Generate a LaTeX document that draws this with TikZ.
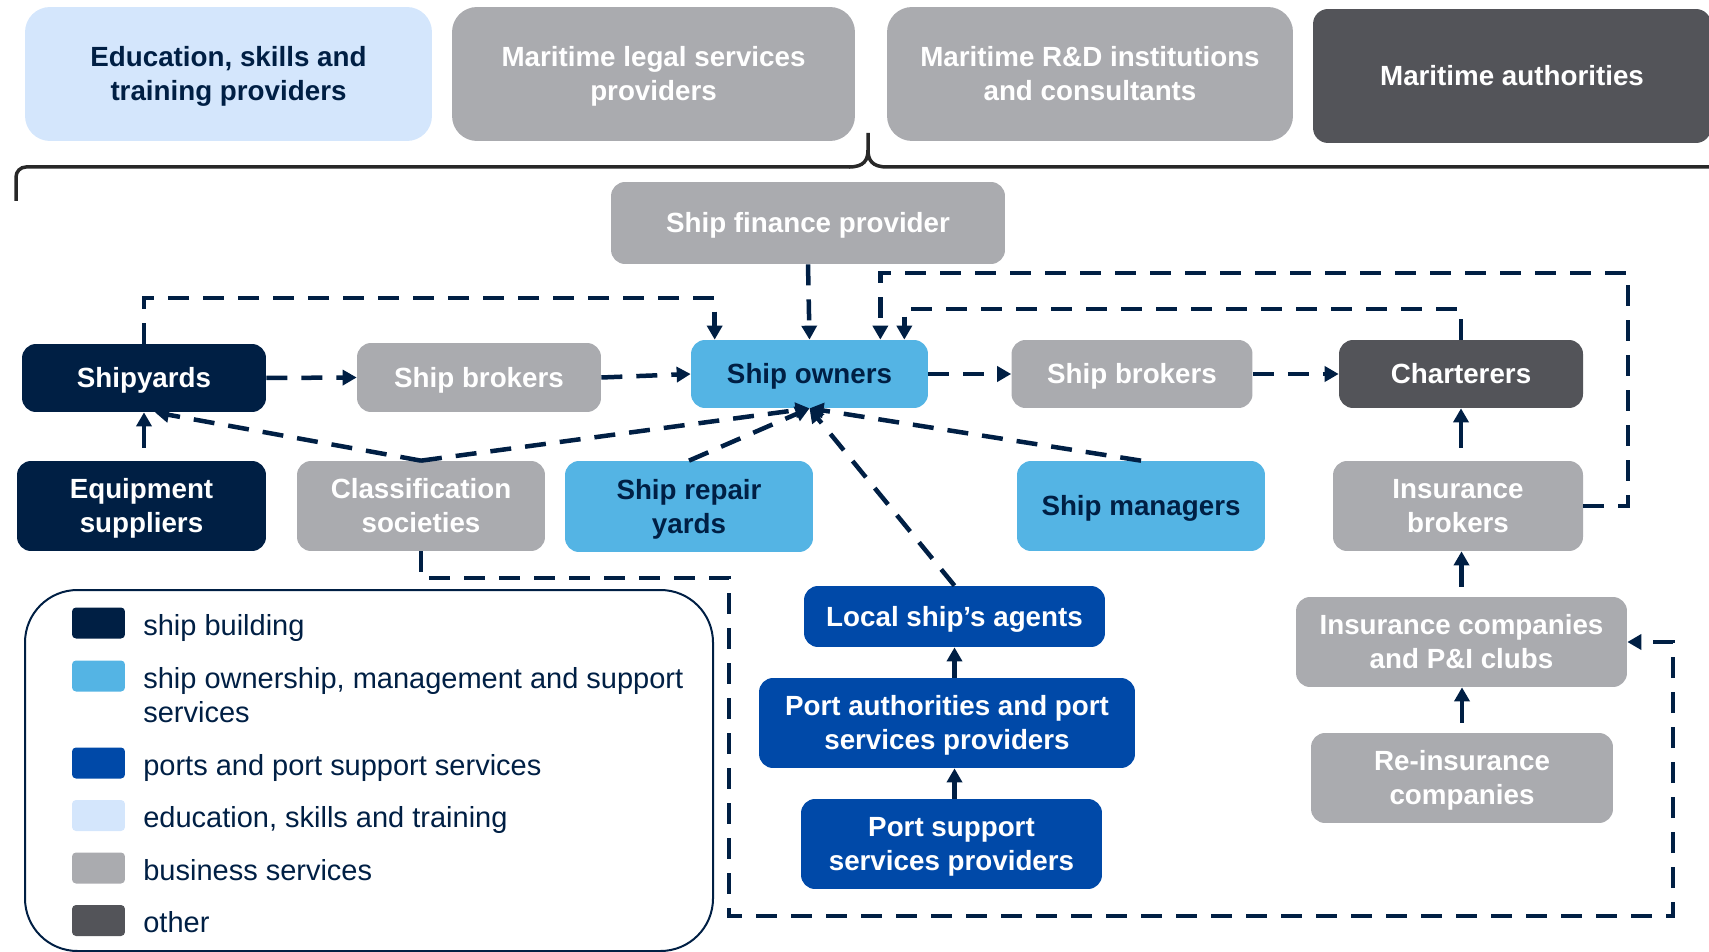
\documentclass[tikz,border=0pt]{standalone}
\usepackage{fontspec}
\setmainfont{Liberation Sans}
\usetikzlibrary{arrows.meta}

\definecolor{cbuild}{RGB}{0,31,68}
\definecolor{cown}{RGB}{84,180,228}
\definecolor{cport}{RGB}{0,73,168}
\definecolor{cedu}{RGB}{212,230,252}
\definecolor{cbiz}{RGB}{170,171,175}
\definecolor{cother}{RGB}{83,84,89}
\definecolor{cbrace}{RGB}{40,40,40}

% line strut, so text sits in its box like the slide does
\newcommand{\lstrut}{\rule[-0.212em]{0pt}{1.117em}}

\tikzset{
    box/.style={rounded corners=0.28cm, inner sep=0pt, align=center,
        font=\bfseries\fontsize{15.8}{19.3}\selectfont,
        execute at begin node={\lstrut}, execute at end node={\lstrut}},
    topbox/.style={box, rounded corners=0.5cm},
    sbuild/.style={box, fill=cbuild, text=white},
    sown/.style={box, fill=cown, text=cbuild},
    sport/.style={box, fill=cport, text=white},
    sedu/.style={topbox, fill=cedu, text=cbuild},
    sbiz/.style={box, fill=cbiz, text=white},
    sother/.style={box, fill=cother, text=white},
    link/.style={draw=cbuild, line width=0.09cm, dash pattern=on 0.42cm off 0.28cm,
        -{Triangle[length=0.28cm, width=0.3cm]}},
    flow/.style={draw=cbuild, line width=0.09cm, -{Triangle[length=0.28cm, width=0.3cm]}},
    brace/.style={draw=cbrace, line width=0.07cm},
    swatch/.style={rounded corners=0.08cm, minimum width=1.06cm, minimum height=0.62cm, inner sep=0pt},
    keytext/.style={anchor=base west, inner sep=0pt, text=cbuild, font=\fontsize{16.5}{19.8}\selectfont}
}

\begin{document}
\begin{tikzpicture}[x=0.02cm, y=-0.02cm]
    \useasboundingbox (0,0) rectangle (1709,952);

    % top row
    \node[sedu, minimum width=8.14cm, minimum height=2.68cm] (edu) at (228.5,74) {\lstrut Education, skills and\\training providers\lstrut};
    \node[sbiz, topbox, minimum width=8.06cm, minimum height=2.68cm] (legal) at (653.5,74) {\lstrut Maritime legal services\\providers\lstrut};
    \node[sbiz, topbox, minimum width=8.12cm, minimum height=2.68cm] (rnd) at (1090,74) {\lstrut Maritime R\&D institutions\\and consultants\lstrut};
    \node[sother, rounded corners=0.3cm, minimum width=7.96cm, minimum height=2.68cm] (auth) at (1512,76) {Maritime authorities};

    % brace
    \draw[brace, rounded corners=0.2cm] (16,201) -- (16,167) -- (850,167);
    \draw[brace] (849,167) .. controls (864,167) and (868,160) .. (868,150) -- (868,133);
    \draw[brace] (868,150) .. controls (868,160) and (872,167) .. (887,167) -- (1712,167);

    % main chain
    \node[sbiz, minimum width=7.88cm, minimum height=1.64cm] (finance) at (808,223) {Ship finance provider};
    \node[sbuild, minimum width=4.88cm, minimum height=1.36cm] (yards) at (144,378) {Shipyards};
    \node[sbiz, minimum width=4.88cm, minimum height=1.38cm] (brokA) at (479,377.5) {Ship brokers};
    \node[sown, minimum width=4.74cm, minimum height=1.36cm] (owners) at (809.5,374) {Ship owners};
    \node[sbiz, minimum width=4.82cm, minimum height=1.36cm] (brokB) at (1132,374) {Ship brokers};
    \node[sother, minimum width=4.88cm, minimum height=1.36cm] (charter) at (1461,374) {Charterers};

    % second row
    \node[sbuild, minimum width=4.98cm, minimum height=1.8cm] (equip) at (141.5,506) {\lstrut Equipment\\suppliers\lstrut};
    \node[sbiz, minimum width=4.96cm, minimum height=1.8cm] (class) at (421,506) {\lstrut Classification\\societies\lstrut};
    \node[sown, minimum width=4.96cm, minimum height=1.82cm] (repair) at (689,506.5) {\lstrut Ship repair\\yards\lstrut};
    \node[sown, minimum width=4.96cm, minimum height=1.8cm] (managers) at (1141,506) {Ship managers};
    \node[sbiz, minimum width=5cm, minimum height=1.8cm] (insbrok) at (1458,506) {\lstrut Insurance\\brokers\lstrut};

    % ports
    \node[sport, minimum width=6.02cm, minimum height=1.22cm] (agents) at (954.5,616.5) {Local ship’s agents};
    \node[sport, minimum width=7.52cm, minimum height=1.8cm] (portauth) at (947,723) {\lstrut Port authorities and port\\services providers\lstrut};
    \node[sport, minimum width=6.02cm, minimum height=1.8cm] (portsup) at (951.5,844) {\lstrut Port support\\services providers\lstrut};

    % insurance
    \node[sbiz, minimum width=6.62cm, minimum height=1.8cm] (inscomp) at (1461.5,642) {\lstrut Insurance companies\\and P\&I clubs\lstrut};
    \node[sbiz, minimum width=6.04cm, minimum height=1.8cm] (reins) at (1462,778) {\lstrut Re-insurance\\companies\lstrut};

    % dashed links
    \draw[link] (yards.east) -- (brokA.west);
    \draw[link] (brokA.east) -- (owners.west);
    \draw[link] (owners.east) -- (brokB.west);
    \draw[link] (brokB.east) -- (charter.west);
    \draw[link] (finance.south) -- (owners.north);
    \draw[link] (class.north) -- ([xshift=0.22cm]yards.south);
    \draw[link] (class.north) -- (owners.south);
    \draw[link] (repair.north) -- (owners.south);
    \draw[link] (managers.north) -- (owners.south);
    \draw[link] (agents.north) -- (owners.south);
    \draw[link] (yards.north) -- (yards.north |- 0,298) -| ([xshift=0.48cm]owners.north west);
    \draw[link] (charter.north) -- (charter.north |- 0,309) -| ([xshift=-0.48cm]owners.north east);
    \draw[link] (insbrok.east) -- (1628,506) -- (1628,273) -| ([xshift=-0.96cm]owners.north east);
    \draw[link] (class.south) -- (class.south |- 0,578) -- (729,578) -- (729,916) -- (1673,916) -- (1673,642) -- (inscomp.east);

    % solid arrows
    \draw[flow, shorten <=0.26cm] (yards.south |- equip.north) -- (yards.south);
    \draw[flow, shorten <=0.26cm] (charter.south |- insbrok.north) -- (charter.south);
    \draw[flow, shorten <=0.2cm] (inscomp.north) -- (inscomp.north |- insbrok.south);
    \draw[flow, shorten <=0.2cm] (reins.north) -- (reins.north |- inscomp.south);
    \draw[flow] (portauth.north -| agents.north) -- (agents.north |- agents.south);
    \draw[flow] (portsup.north -| agents.north) -- (agents.north |- portauth.south);

    % legend
    \draw[cbuild, line width=0.04cm, rounded corners=1.05cm] (25,590) rectangle (713,951);
    \node[swatch, fill=cbuild] (kbuild) at (98.5,623) {};
    \node[swatch, fill=cown] (kown) at (98.5,676) {};
    \node[swatch, fill=cport] (kport) at (98.5,763) {};
    \node[swatch, fill=cedu] (kedu) at (98.5,815.5) {};
    \node[swatch, fill=cbiz] (kbiz) at (98.5,868) {};
    \node[swatch, fill=cother] (kother) at (98.5,920.5) {};
    \node[keytext] (tbuild) at (143,635) {ship building};
    \node[keytext] (town) at (143,688) {ship ownership, management and support};
    \node[keytext] (town2) at (143,722) {services};
    \node[keytext] (tport) at (143,775) {ports and port support services};
    \node[keytext] (tedu) at (143,827.5) {education, skills and training};
    \node[keytext] (tbiz) at (143,880) {business services};
    \node[keytext] (tother) at (143,932.5) {other};
\end{tikzpicture}
\end{document}
